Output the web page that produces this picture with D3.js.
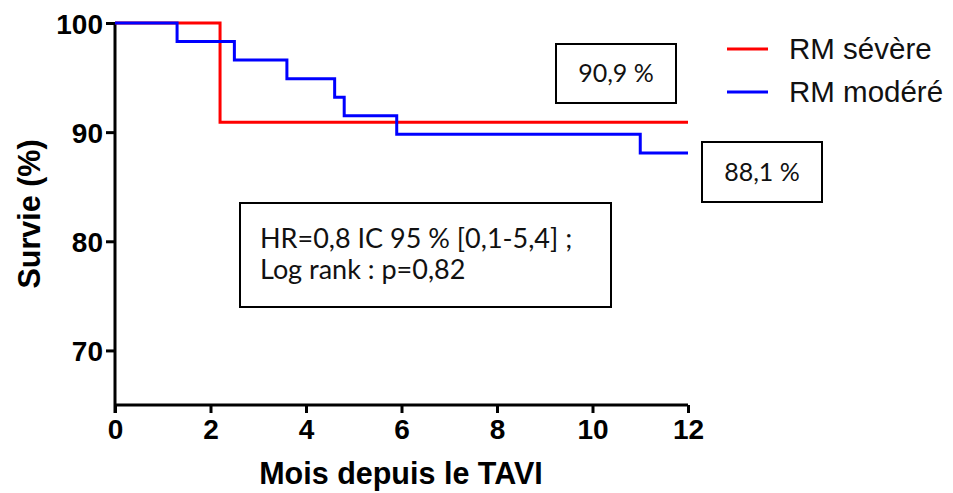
<!DOCTYPE html>
<html>
<head>
<meta charset="utf-8">
<script src="https://cdn.jsdelivr.net/npm/d3@7"></script>
<style>
    body { margin: 0; background: #fff; }
    .axis text { font-family: "Liberation Sans", Arial, sans-serif; font-weight: bold; font-size: 28px; fill: #000; }
    .axis path, .axis line { stroke: #000; stroke-width: 3px; }
    .note { font-family: Lato, "Open Sans", sans-serif; font-size: 27px; fill: #111; }
    .legend text { font-family: "Liberation Sans", Arial, sans-serif; font-size: 29.5px; fill: #111; }
</style>
</head>
<body>
<div id="chart"></div>
<script>

// survival steps: [month, survival %]
let severeTimes = [0, 2.2, 12];
let severeValues = [100, 90.9, 90.9];

let moderateTimes = [0, 1.3, 2.5, 3.6, 4.6, 4.8, 5.9, 11.0, 12];
let moderateValues = [100, 98.3, 96.6, 94.9, 93.2, 91.5, 89.8, 88.1, 88.1];

let xTicks = [0, 2, 4, 6, 8, 10, 12];
let yTicks = [70, 80, 90, 100];

let seriesNames = ["RM sévère", "RM modéré"];
let seriesColors = ["#ff0000", "#0000ff"];

let endLabels = ["90,9 %", "88,1 %"];
let statLines = ["HR=0,8 IC 95 % [0,1-5,4] ;", "Log rank : p=0,82"];

let width = 953, height = 493;

let svg = d3.select("#chart").append("svg")
    .attr("width", width)
    .attr("height", height);

// scales
let x = d3.scaleLinear().domain([0, 12]).range([115, 688]);
let y = d3.scaleLinear().domain([65, 100]).range([405, 23]);

// axes
svg.append("g")
    .attr("class", "axis x-axis")
    .attr("transform", `translate(0, ${y(65)})`)
    .call(d3.axisBottom(x).tickValues(xTicks).tickSize(8).tickSizeOuter(0).tickPadding(6))
    .call(g => g.select(".domain").attr("d", `M${x(0)},0H${x(12)}`));

svg.append("g")
    .attr("class", "axis y-axis")
    .attr("transform", `translate(${x(0)}, 0)`)
    .call(d3.axisLeft(y).tickValues(yTicks).tickSize(9).tickSizeOuter(0).tickPadding(3))
    .call(g => g.select(".domain").attr("d", `M0,${y(100)}V${y(65) + 8}`));

svg.selectAll(".axis text").attr("dy", "0.36em");
svg.select(".x-axis").selectAll("text").attr("dy", "0.72em");

// axis titles
svg.append("text")
    .attr("x", 401).attr("y", 484)
    .attr("text-anchor", "middle")
    .style("font-family", "'Liberation Sans', Arial, sans-serif")
    .style("font-weight", "bold").style("font-size", "30.5px")
    .text("Mois depuis le TAVI");

svg.append("text")
    .attr("transform", `translate(40, ${y(82.5)}) rotate(-90)`)
    .attr("text-anchor", "middle")
    .style("font-family", "'Liberation Sans', Arial, sans-serif")
    .style("font-weight", "bold").style("font-size", "30.5px")
    .text("Survie (%)");

// step curves
let stepLine = d3.line()
    .x(d => x(d[0]))
    .y(d => y(d[1]))
    .curve(d3.curveStepAfter);

let series = [
    d3.zip(severeTimes, severeValues),
    d3.zip(moderateTimes, moderateValues)
];

svg.selectAll(".km")
    .data(series)
    .enter().append("path")
    .attr("class", "km")
    .attr("d", stepLine)
    .attr("fill", "none")
    .attr("stroke", (d, i) => seriesColors[i])
    .attr("stroke-width", 3);

// legend
let legend = svg.append("g").attr("class", "legend")
    .attr("transform", "translate(727, 49)");

seriesNames.forEach((name, i) => {
    let row = legend.append("g").attr("transform", `translate(0, ${i * 43})`);
    row.append("line")
        .attr("x1", 0).attr("x2", 41)
        .attr("stroke", seriesColors[i]).attr("stroke-width", 3);
    row.append("text")
        .attr("x", 62).attr("dy", "0.35em")
        .text(name);
});

// end value boxes
let boxes = [
    {x: 556, y: 44, w: 120, h: 59},
    {x: 702, y: 142, w: 120, h: 60}
];

boxes.forEach((b, i) => {
    svg.append("rect")
        .attr("x", b.x).attr("y", b.y)
        .attr("width", b.w).attr("height", b.h)
        .attr("fill", "#fff").attr("stroke", "#000").attr("stroke-width", 2);
    svg.append("text")
        .attr("class", "note")
        .attr("x", b.x + b.w / 2).attr("y", b.y + b.h / 2)
        .attr("dy", "0.35em")
        .attr("text-anchor", "middle")
        .style("font-size", "25px")
        .text(endLabels[i]);
});

// stats box
svg.append("rect")
    .attr("x", 240).attr("y", 203)
    .attr("width", 371).attr("height", 104)
    .attr("fill", "#fff").attr("stroke", "#000").attr("stroke-width", 2);

statLines.forEach((t, i) => {
    svg.append("text")
        .attr("class", "note")
        .attr("x", 260).attr("y", 248 + i * 31)
        .text(t);
});

</script>
</body>
</html>
